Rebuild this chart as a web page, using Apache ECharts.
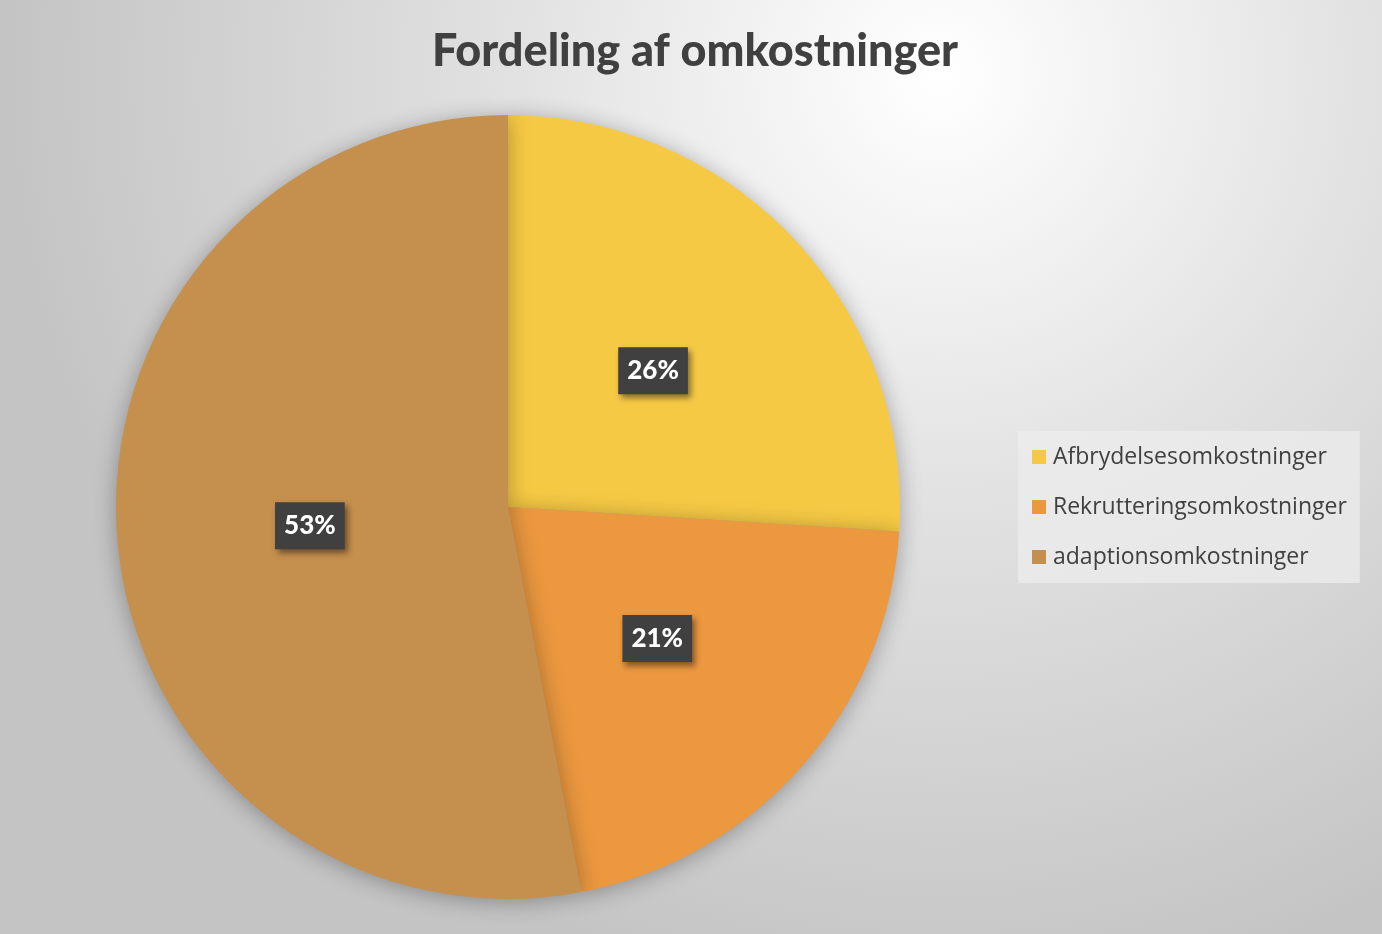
<!DOCTYPE html>
<html lang="da">
    <head>
        <meta charset="utf-8">
        <title>Fordeling af omkostninger</title>
        <script src="https://cdn.jsdelivr.net/npm/echarts@6/dist/echarts.min.js"></script>
        <style>
          html, body { margin: 0; padding: 0; }
        </style>
    </head>
    <body>
    <div id="pie" style="width: 1382px;height:934px;"></div>
    <script type="text/javascript">
        var categories = ['Afbrydelsesomkostninger', 'Rekrutteringsomkostninger', 'adaptionsomkostninger'];
        var shares = [26, 21, 53];
        var colors = ['#F6C945', '#EB983F', '#C58F4E'];

        var pieData = [];
        for (var i = 0; i < categories.length; i++) {
          pieData.push({ name: categories[i], value: shares[i] });
        }

        var pieChart = echarts.init(document.getElementById('pie'));
        pieChart.setOption({
          backgroundColor: {
            type: 'radial', x: 0.68, y: 0.08, r: 1.0,
            colorStops: [
              { offset: 0, color: '#ffffff' },
              { offset: 0.45, color: '#e2e2e2' },
              { offset: 1, color: '#c4c4c4' }
            ]
          },
          color: colors,
          title: {
            text: 'Fordeling af omkostninger',
            left: 690,
            textAlign: 'center',
            top: 24,
            textStyle: {
              fontFamily: 'Lato',
              fontWeight: 900,
              fontSize: 45,
              color: '#404040'
            }
          },
          legend: {
            orient: 'vertical',
            left: 1018,
            top: 431,
            width: 348,
            padding: [13, 13, 13, 14],
            backgroundColor: 'rgba(236,236,236,0.75)',
            icon: 'rect',
            itemWidth: 14,
            itemHeight: 14,
            itemGap: 24,
            data: categories,
            textStyle: {
              fontFamily: 'Open Sans',
              fontSize: 23,
              lineHeight: 26,
              color: '#404040',
              padding: [0, 0, 0, 2]
            }
          },
          series: [{
            type: 'pie',
            center: [508, 507],
            radius: 392,
            startAngle: 90,
            clockwise: true,
            data: pieData,
            itemStyle: {
              shadowBlur: 22,
              shadowColor: 'rgba(0,0,0,0.3)',
              shadowOffsetX: 0,
              shadowOffsetY: 3
            },
            label: {
              show: true,
              position: 'inside',
              formatter: '{d}%',
              fontFamily: 'Lato',
              fontWeight: 900,
              fontSize: 26,
              color: '#ffffff',
              backgroundColor: '#404040',
              padding: [11, 9, 10, 9],
              shadowBlur: 6,
              shadowColor: 'rgba(0,0,0,0.45)',
              shadowOffsetX: 3,
              shadowOffsetY: 4
            },
            labelLine: { show: false },
            emphasis: { scale: false }
          }]
        });
    </script>
    </body>
</html>
